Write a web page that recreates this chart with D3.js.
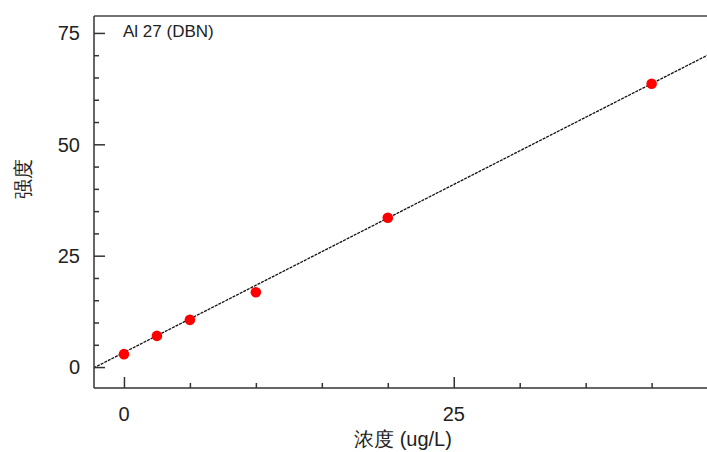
<!DOCTYPE html>
<html>
<head>
<meta charset="utf-8">
<script src="https://cdn.jsdelivr.net/npm/d3@7"></script>
<style>
    body { margin: 0; background: #fff; }
    text { font-family: "Liberation Sans", Arial, sans-serif; fill: #222; }
</style>
</head>
<body>
<svg id="chart" width="707" height="452"></svg>
<script>
// calibration standards (concentration ug/L, intensity)
const concentrations = [0, 2.5, 5, 10, 20, 40];
const intensities = [2.9, 7.0, 10.6, 16.8, 33.5, 63.6];

// fitted line endpoints as drawn
const fitX = [-2.3, 44.5];
const fitY = [-0.2, 70.4];

const xMajorTicks = [0, 25];
const yMajorTicks = [0, 25, 50, 75];
const title = "Al 27 (DBN)";
const xLabel = "浓度 (ug/L)";
const yLabel = "强度";

const margin = { top: 16, right: -3, bottom: 64, left: 94 };
const width = 707, height = 452;

const svg = d3.select("#chart");

const x = d3.scaleLinear()
    .domain([-2.27, 44.5])
    .range([margin.left, margin.left + 617]);

const y = d3.scaleLinear()
    .domain([-4.7, 78.8])
    .range([height - margin.bottom, margin.top]);

svg.append("clipPath").attr("id", "plot-clip")
    .append("rect")
    .attr("x", margin.left).attr("y", margin.top)
    .attr("width", width - margin.left).attr("height", height - margin.bottom - margin.top);

// fit line
svg.append("line")
    .attr("clip-path", "url(#plot-clip)")
    .attr("x1", x(fitX[0])).attr("y1", y(fitY[0]))
    .attr("x2", x(fitX[1])).attr("y2", y(fitY[1]))
    .attr("stroke", "#111")
    .attr("stroke-width", 1.3)
    .attr("stroke-dasharray", "3,1");

// points
svg.selectAll(".pt")
    .data(concentrations)
    .join("circle")
    .attr("class", "pt")
    .attr("cx", d => x(d))
    .attr("cy", (d, i) => y(intensities[i]))
    .attr("r", 5.3)
    .attr("fill", "#ff0000");

// axes (ticks pointing inward)
const axisColor = "#333";
const xAxis = svg.append("g")
    .attr("transform", `translate(0,${height - margin.bottom})`);
xAxis.call(d3.axisBottom(x).tickValues(d3.range(0, 45, 5)).tickSize(-5).tickFormat(""));
xAxis.call(g => g.selectAll(".tick")
    .filter(d => xMajorTicks.includes(d))
    .select("line").attr("y2", -11));
xAxis.selectAll("path").attr("d", `M${margin.left},0H${width + 5}`);
xAxis.selectAll("line, path").attr("stroke", axisColor).attr("stroke-width", 1.5);

svg.append("g").selectAll("text")
    .data(xMajorTicks)
    .join("text")
    .attr("x", d => x(d))
    .attr("y", 421)
    .attr("text-anchor", "middle")
    .style("font-size", "20px")
    .text(d => d);

const yAxis = svg.append("g")
    .attr("transform", `translate(${margin.left},0)`);
yAxis.call(d3.axisLeft(y).tickValues(d3.range(0, 80, 5)).tickSize(-5).tickFormat(""));
yAxis.call(g => g.selectAll(".tick")
    .filter(d => yMajorTicks.includes(d))
    .select("line").attr("x2", 11));
yAxis.selectAll("path").attr("d", `M0,${height - margin.bottom}V${margin.top}`);
yAxis.selectAll("line, path").attr("stroke", axisColor).attr("stroke-width", 1.5);

svg.append("g").selectAll("text")
    .data(yMajorTicks)
    .join("text")
    .attr("x", 80)
    .attr("y", d => y(d))
    .attr("dy", "0.36em")
    .attr("text-anchor", "end")
    .style("font-size", "20px")
    .text(d => d);

// top border
svg.append("line")
    .attr("x1", margin.left).attr("x2", width + 5)
    .attr("y1", margin.top).attr("y2", margin.top)
    .attr("stroke", "#444").attr("stroke-width", 1.5);

svg.append("text")
    .attr("x", 123).attr("y", 37)
    .style("font-size", "17px")
    .text(title);

svg.append("text")
    .attr("x", 403).attr("y", 446)
    .attr("text-anchor", "middle")
    .style("font-size", "20px")
    .text(xLabel);

svg.append("text")
    .attr("transform", "translate(30,179) rotate(-90)")
    .attr("text-anchor", "middle")
    .style("font-size", "20px")
    .text(yLabel);
</script>
</body>
</html>
